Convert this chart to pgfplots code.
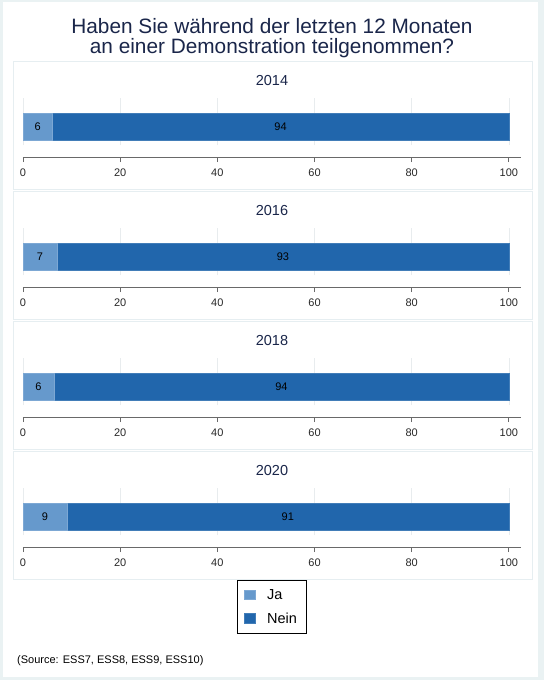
\documentclass[border=0pt]{standalone}
\usepackage{pgfplots}
\pgfplotsset{compat=1.18}
\usepackage{fontspec}
\setmainfont{Liberation Sans}
\definecolor{bgout}{RGB}{234,242,243}
\definecolor{panelborder}{RGB}{230,238,241}
\definecolor{gridcol}{RGB}{232,236,238}
\definecolor{axisgray}{RGB}{105,105,105}
\definecolor{ticktext}{RGB}{40,40,40}
\definecolor{titlecol}{RGB}{26,38,74}
\definecolor{jacol}{RGB}{102,153,204}
\definecolor{neincol}{RGB}{33,102,172}
\pgfplotsset{panel/.style={
  scale only axis, width=498pt, height=47pt,
  xmin=0, xmax=102.5, ymin=0, ymax=47,
  xbar stacked, bar width=27pt,
  axis x line*=bottom, axis y line=none,
  x axis line style={-, draw=axisgray, line width=0.8pt, yshift=-12pt},
  xtick={0,20,...,100}, tick align=outside, major tick length=5pt,
  xtick style={draw=axisgray, line width=0.8pt, yshift=-12pt},
  xticklabel style={font=\fontsize{11}{12}\selectfont, text=ticktext, yshift=-15pt},
  /pgf/number format/assume math mode=true,
  xmajorgrids, major grid style={gridcol, line width=0.6pt},
  ytick=\empty,
  clip=false,
  nodes near coords, point meta=explicit symbolic,
  every node near coord/.append style={anchor=center, font=\fontsize{11}{12}\selectfont, text=black},
  legend image code/.code={\fill[#1] (0pt,-4.5pt) rectangle (11pt,5pt);},
}}
\begin{document}
\begin{tikzpicture}[x=1pt,y=1pt]
\fill[bgout] (0,0) rectangle (544,-680);
\fill[white] (3,-2) rectangle (538,-677);
\foreach \k in {0,1,2,3}{
  \draw[panelborder, line width=0.8pt] (13,{-61-130*\k}) rectangle (532,{-189-130*\k});
}
\node[anchor=base, font=\fontsize{20.8}{21}\selectfont, text=titlecol] at (272,-33) {Haben Sie während der letzten 12 Monaten};
\node[anchor=base, font=\fontsize{20.8}{21}\selectfont, text=titlecol] at (272,-53) {an einer Demonstration teilgenommen?};
\node[anchor=base, font=\fontsize{14.5}{15}\selectfont, text=titlecol] at (272,-85) {2014};
\node[anchor=base, font=\fontsize{14.5}{15}\selectfont, text=titlecol] at (272,-215) {2016};
\node[anchor=base, font=\fontsize{14.5}{15}\selectfont, text=titlecol] at (272,-345) {2018};
\node[anchor=base, font=\fontsize{14.5}{15}\selectfont, text=titlecol] at (272,-475) {2020};

\begin{axis}[panel, at={(23pt,-145pt)}, anchor=south west]
\addplot[fill=jacol, draw=jacol!85!white] coordinates {(6,18.5) [6]};
\addplot[fill=neincol, draw=neincol!85!white] coordinates {(94,18.5) [94]};
\end{axis}

\begin{axis}[panel, at={(23pt,-275pt)}, anchor=south west]
\addplot[fill=jacol, draw=jacol!85!white] coordinates {(7,18.5) [7]};
\addplot[fill=neincol, draw=neincol!85!white] coordinates {(93,18.5) [93]};
\end{axis}

\begin{axis}[panel, at={(23pt,-405pt)}, anchor=south west]
\addplot[fill=jacol, draw=jacol!85!white] coordinates {(6.4,18.5) [6]};
\addplot[fill=neincol, draw=neincol!85!white] coordinates {(93.6,18.5) [94]};
\end{axis}

\begin{axis}[panel, at={(23pt,-535pt)}, anchor=south west,
  legend style={at={(axis description cs:0.4297,-0.957)}, anchor=north west,
    draw=black, line width=0.8pt, font=\fontsize{14.5}{15}\selectfont,
    row sep=8pt, inner xsep=7pt, inner ysep=7pt,
    /tikz/every odd column/.append style={column sep=9pt},
    /tikz/every even column/.append style={column sep=0pt}},
  legend cell align=left]
\addplot[fill=jacol, draw=jacol!85!white] coordinates {(9,18.5) [9]};
\addlegendentry{Ja}
\addplot[fill=neincol, draw=neincol!85!white] coordinates {(91,18.5) [91]};
\addlegendentry{Nein}
\end{axis}

\node[anchor=base west, inner sep=0pt, font=\fontsize{11}{12}\selectfont, text=black] at (17,-663) {(Source: ESS7, ESS8, ESS9, ESS10)};
\end{tikzpicture}
\end{document}
